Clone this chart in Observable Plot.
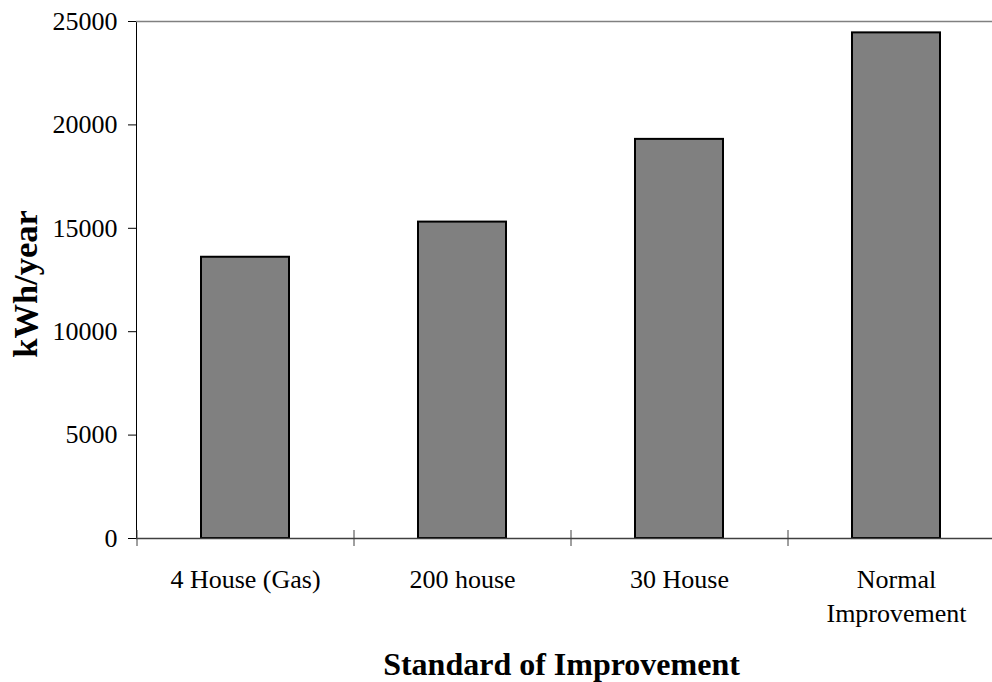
<!DOCTYPE html>
<html>
<head>
<meta charset="utf-8">
<script src="https://cdn.jsdelivr.net/npm/d3@7"></script>
<script src="https://cdn.jsdelivr.net/npm/@observablehq/plot@0.6"></script>
<style>
  html, body { margin: 0; padding: 0; background: #fff; overflow: hidden; }
</style>
</head>
<body>
<div id="chart"></div>
<script>
const categories = ["4 House (Gas)", "200 house", "30 House", "Normal Improvement"];
const tickLabels = ["4 House (Gas)", "200 house", "30 House", "Normal\nImprovement"];
const values = [13600, 15300, 19300, 24450];
const yTicks = [0, 5000, 10000, 15000, 20000, 25000];
const yTitle = "kWh/year";
const xTitle = "Standard of Improvement";

const data = categories.map((c, i) => ({cat: c, label: tickLabels[i], value: values[i]}));

const chart = Plot.plot({
  width: 992,
  height: 682,
  marginLeft: 136,
  marginRight: 0,
  marginTop: 21,
  marginBottom: 144,
  style: {fontFamily: "'Liberation Serif', 'Times New Roman', serif", fontSize: "26px", color: "#000", background: "#fff"},
  x: {domain: categories, range: [136, 1004], paddingInner: 0.595, paddingOuter: 0.2975, axis: null},
  y: {domain: [0, 25000], ticks: yTicks, tickSize: 8, tickPadding: 11, tickFormat: "d", label: null, line: true},
  marks: [
    Plot.ruleY([25000], {stroke: "#808080", strokeWidth: 1.5}),
    Plot.barY(data, {x: "cat", y: "value", fill: "#808080", stroke: "#000", strokeWidth: 2}),
    Plot.ruleY([0], {stroke: "#404040", strokeWidth: 1.5}),
    Plot.ruleX(categories, {x: d => d, dx: -108.5, y1: 0, y2: 0, insetTop: -8, insetBottom: -8, stroke: "#404040", strokeWidth: 1}),
    Plot.text(data, {x: "cat", y: 0, text: "label", lineAnchor: "top", dy: 26, lineHeight: 1.3, fontSize: 26, fill: "#000"}),
    Plot.text([yTitle], {frameAnchor: "left", textAnchor: "middle", lineAnchor: "middle", dx: -111, dy: 4, rotate: -90, fontWeight: "bold", fontSize: 34.5, fill: "#000"}),
    Plot.text([xTitle], {frameAnchor: "bottom", textAnchor: "middle", lineAnchor: "middle", dy: 126, dx: -3, fontWeight: "bold", fontSize: 32, fill: "#000"})
  ]
});
document.getElementById("chart").appendChild(chart);
</script>
</body>
</html>
